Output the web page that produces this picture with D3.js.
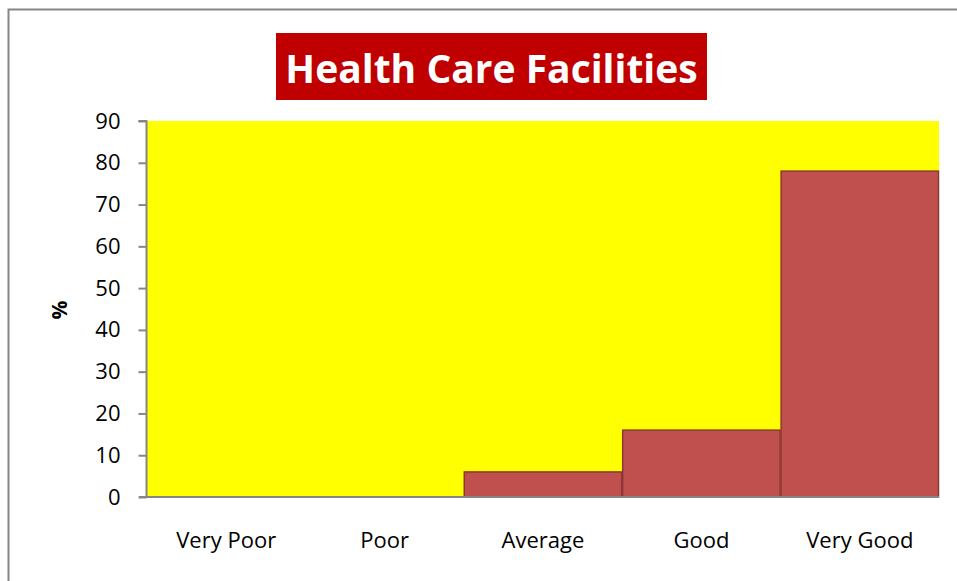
<!DOCTYPE html>
<html>
<head>
<meta charset="utf-8">
<script src="https://cdn.jsdelivr.net/npm/d3@7"></script>
<style>
  body { margin: 0; background: #fff; }
  text { font-family: "Open Sans", sans-serif; font-variant-ligatures: none; }
</style>
</head>
<body>
<div id="chart"></div>
<script>
// data
const categories = ["Very Poor", "Poor", "Average", "Good", "Very Good"];
const values = [0, 0, 6, 16, 78];
const yTicks = [0, 10, 20, 30, 40, 50, 60, 70, 80, 90];

const W = 957, H = 581;
const plot = { left: 147, right: 939, top: 121, bottom: 497 };

const svg = d3.select("#chart")
    .append("svg")
    .attr("width", W)
    .attr("height", H);

// outer frame
svg.append("rect")
    .attr("x", 8.5).attr("y", 9.5)
    .attr("width", 980).attr("height", 600)
    .attr("fill", "#fff")
    .attr("stroke", "#868686")
    .attr("stroke-width", 2);

const x = d3.scaleBand()
    .domain(categories)
    .range([plot.left, plot.right])
    .padding(0);

const y = d3.scaleLinear()
    .domain([0, 90])
    .range([plot.bottom, plot.top]);

// plot background
svg.append("rect")
    .attr("x", plot.left).attr("y", plot.top)
    .attr("width", plot.right - plot.left)
    .attr("height", plot.bottom - plot.top)
    .attr("fill", "#ffff00");

// bars
svg.selectAll("rect.bar")
    .data(values)
    .join("rect")
    .attr("class", "bar")
    .attr("x", (d, i) => x(categories[i]) + 0.5)
    .attr("y", d => y(d))
    .attr("width", x.bandwidth() - 1)
    .attr("height", d => y(0) - y(d))
    .attr("fill", "#c0504d")
    .attr("stroke", "#8c3836")
    .attr("stroke-width", 1.5)
    .style("display", d => d > 0 ? null : "none");

// y axis
const yAxis = svg.append("g")
    .attr("transform", `translate(${plot.left - 0.5},0)`)
    .call(d3.axisLeft(y).tickValues(yTicks).tickSize(8).tickPadding(18));
yAxis.selectAll("path, line").attr("stroke", "#868686").attr("stroke-width", 2);
yAxis.select(".domain").attr("d", `M-8,${plot.top}H0V${plot.bottom}`);
yAxis.selectAll("text")
    .attr("font-size", 22)
    .attr("font-family", "'Open Sans', sans-serif")
    .attr("fill", "#000");

// x axis
const xAxis = svg.append("g")
    .attr("transform", `translate(0,${plot.bottom})`)
    .call(d3.axisBottom(x).tickSize(0).tickPadding(35));
xAxis.select(".domain").attr("stroke", "#868686").attr("stroke-width", 2)
    .attr("d", `M${plot.left - 8},0H${plot.right}`);
xAxis.selectAll("text")
    .attr("font-size", 22)
    .attr("font-family", "'Open Sans', sans-serif")
    .attr("fill", "#000");

// y label
svg.append("text")
    .attr("transform", "translate(67,310) rotate(-90)")
    .attr("text-anchor", "middle")
    .attr("font-size", 21)
    .attr("font-weight", "bold")
    .text("%");

// title
svg.append("rect")
    .attr("x", 276).attr("y", 33)
    .attr("width", 431).attr("height", 67)
    .attr("fill", "#c00000");
svg.append("text")
    .attr("x", 491.5).attr("y", 83)
    .attr("text-anchor", "middle")
    .attr("font-size", 39)
    .attr("font-weight", "bold")
    .attr("fill", "#fff")
    .text("Health Care Facilities");
</script>
</body>
</html>
